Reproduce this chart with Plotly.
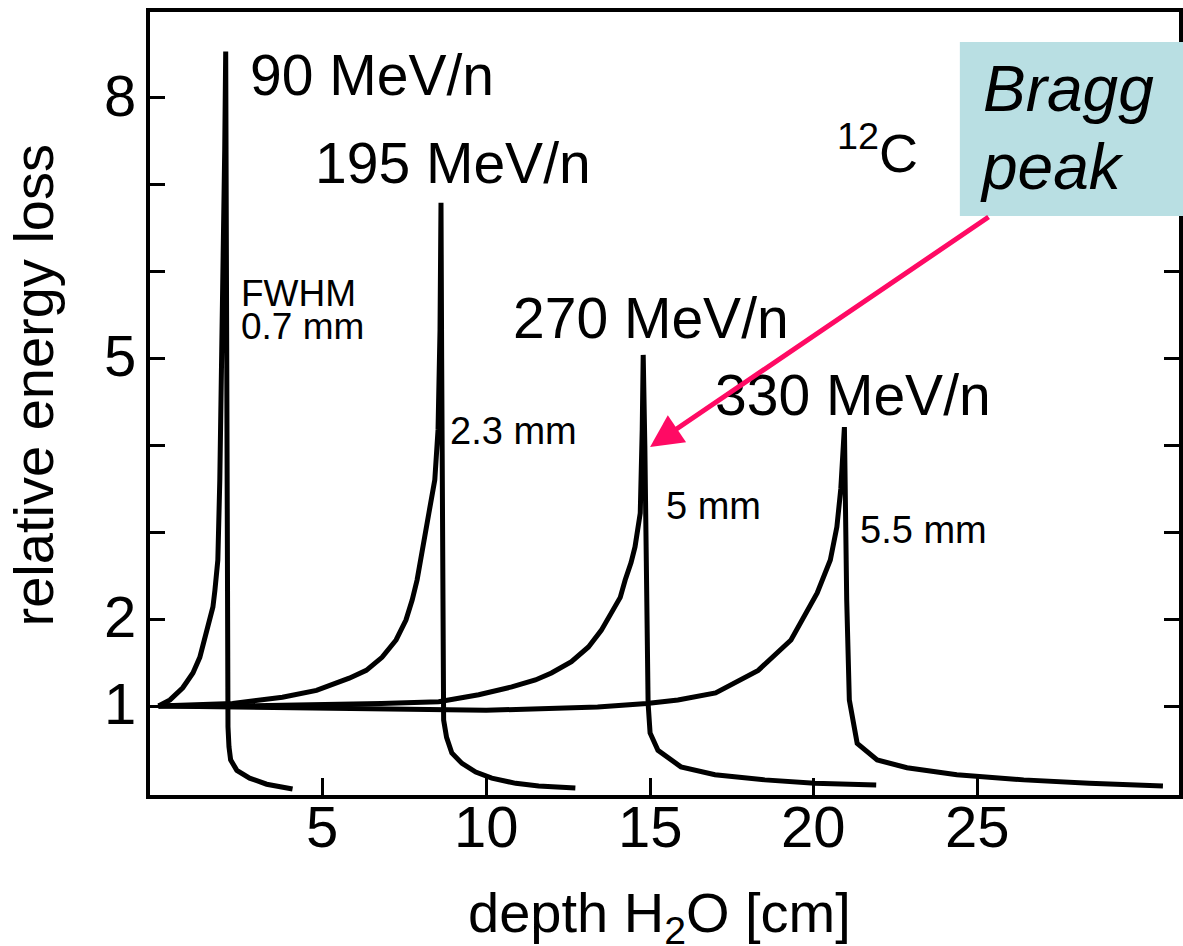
import plotly.graph_objects as go

# ---------------- data ----------------
energies = ["90 MeV/n", "195 MeV/n", "270 MeV/n", "330 MeV/n"]

depth_90 = [0.0, 0.35, 0.74, 1.05, 1.26, 1.41, 1.53, 1.66, 1.72, 1.78, 1.81, 1.87,
            1.93, 1.99, 2.02, 2.05,
            2.07, 2.09, 2.10, 2.12, 2.15, 2.20, 2.39, 2.78, 3.30, 3.78, 4.09]
eloss_90 = [1.0, 1.07, 1.21, 1.38, 1.56, 1.76, 1.95, 2.14, 2.33, 2.53, 2.68, 3.60,
            4.87, 6.25, 7.40, 8.53,
            5.5, 2.5, 1.0, 0.76, 0.53, 0.38, 0.26, 0.17, 0.10, 0.06, 0.045]

depth_195 = [0.0, 2.26, 3.78, 4.82, 5.82, 6.34, 6.82, 7.25, 7.55, 7.74, 7.89, 7.99,
             8.25, 8.43, 8.53, 8.59, 8.62,
             8.64, 8.66, 8.68, 8.70, 8.79, 8.95, 9.26, 9.68, 10.17, 10.90, 11.60,
             12.72]
eloss_195 = [1.0, 1.03, 1.10, 1.18, 1.32, 1.41, 1.56, 1.76, 1.99, 2.22, 2.45, 2.68,
             3.22, 3.60, 4.18, 5.33, 6.79,
             5.0, 2.5, 1.0, 0.84, 0.64, 0.46, 0.34, 0.24, 0.17, 0.11, 0.08,
             0.056]

depth_270 = [0.0, 2.3, 6.8, 8.55, 9.77, 10.78, 11.50, 11.99, 12.60, 13.12, 13.51,
             13.82, 14.09, 14.24, 14.42, 14.54, 14.70, 14.76, 14.79,
             14.84, 14.88, 14.94, 15.0, 15.24, 15.94, 16.98, 18.50, 20.02, 21.9]
eloss_270 = [1.0, 1.0, 1.03, 1.05, 1.13, 1.22, 1.30, 1.38, 1.51, 1.68, 1.87,
             2.07, 2.25, 2.45, 2.65, 2.83, 3.22, 4.18, 5.04,
             4.0, 2.5, 1.03, 0.69, 0.49, 0.30, 0.21, 0.15, 0.11, 0.09]

depth_330 = [0.0, 5.0, 10.0, 13.4, 14.9, 15.85, 17.0, 18.3, 19.3, 20.1, 20.5, 20.7,
             20.82, 20.93,
             20.95, 21.0, 21.08, 21.32, 21.93, 22.84, 24.36, 26.40, 28.40, 30.65]
eloss_330 = [1.0, 0.97, 0.95, 0.99, 1.03, 1.07, 1.15, 1.41, 1.76, 2.30, 2.68, 3.06,
             3.5, 4.21,
             3.3, 2.22, 1.07, 0.57, 0.38, 0.29, 0.21, 0.15, 0.11, 0.08]

fwhm_labels = ["FWHM", "0.7 mm", "2.3 mm", "5 mm", "5.5 mm"]

x_tickvals = [5, 10, 15, 20, 25]
x_ticktext = ["5", "10", "15", "20", "25"]
y_tickvals = [1, 2, 3, 4, 5, 6, 7, 8]
y_labelvals = [1, 2, 5, 8]
y_labeltext = ["1", "2", "5", "8"]

# ---------------- layout geometry ----------------
W, H = 1183, 946
L, R, T, B = 150, 0, 12, 151
PW, PH = W - L - R, H - T - B


def px(xp):
    return (xp - L) / PW


def py(yp):
    return (H - B - yp) / PH


FONT = "Arial, Liberation Sans, Helvetica, sans-serif"

fig = go.Figure()
for d, e, name in zip([depth_90, depth_195, depth_270, depth_330],
                      [eloss_90, eloss_195, eloss_270, eloss_330], energies):
    fig.add_trace(go.Scatter(x=d, y=e, mode="lines", name=name,
                             line=dict(color="black", width=5),
                             showlegend=False, hoverinfo="skip"))

fig.update_layout(
    width=W, height=H,
    margin=dict(l=L, r=R, t=T, b=B),
    paper_bgcolor="white", plot_bgcolor="white",
    font=dict(family=FONT, color="black"),
    showlegend=False,
)
fig.update_xaxes(range=[-0.26, 31.14], tickvals=x_tickvals, showticklabels=False,
                 ticks="inside", ticklen=17, tickwidth=3, tickcolor="black",
                 showline=True, linecolor="black", linewidth=4, mirror=True,
                 showgrid=False, zeroline=False)
fig.update_yaxes(range=[-0.024, 8.986], tickvals=y_tickvals, showticklabels=False,
                 ticks="inside", ticklen=15, tickwidth=3, tickcolor="black",
                 showline=True, linecolor="black", linewidth=4, mirror="ticks",
                 showgrid=False, zeroline=False)

# tick labels
for v, t in zip(x_tickvals, x_ticktext):
    fig.add_annotation(text=t, xref="x", yref="paper", x=v, y=py(826),
                       xanchor="center", yanchor="middle", showarrow=False,
                       font=dict(size=58, family=FONT, color="black"))
for v, t in zip(y_labelvals, y_labeltext):
    fig.add_annotation(text=t, xref="paper", yref="y", x=px(138), y=v + 0.03,
                       xanchor="right", yanchor="middle", showarrow=False,
                       font=dict(size=58, family=FONT, color="black"))

# Bragg peak box
fig.add_shape(type="rect", xref="paper", yref="paper",
              x0=px(963), x1=px(1190), y0=py(216), y1=py(42),
              fillcolor="#B9DFE3", line=dict(width=0), layer="above")


def label(text, xp, yp, size, xanchor="left", **kw):
    fig.add_annotation(text=text, xref="paper", yref="paper", x=px(xp), y=py(yp),
                       xanchor=xanchor, yanchor="middle", showarrow=False,
                       font=dict(size=size, family=FONT, color="black"), **kw)


label(energies[0], 248, 75, 57)
label(energies[1], 314, 163, 57)
label(energies[2], 512, 318, 57)
label(energies[3], 715, 395, 57)
label(fwhm_labels[0], 239, 293, 37)
label(fwhm_labels[1], 239, 326, 37)
label(fwhm_labels[2], 449, 431, 38)
label(fwhm_labels[3], 666, 506, 38)
label(fwhm_labels[4], 861, 530, 38)
label("<sup>12</sup>C", 838, 149, 54)
label("<i>Bragg</i>", 984, 89, 64)
label("<i>peak</i>", 981, 167, 64)

# axis titles
label("relative energy loss", 34, 385, 56, xanchor="center", textangle=-90)
label("depth H<sub>2</sub>O [cm]", 661, 916, 56, xanchor="center")

# arrow to the Bragg peak
fig.add_annotation(xref="paper", yref="paper", x=px(652), y=py(447),
                   ax=992 - 652, ay=216 - 447, axref="pixel", ayref="pixel",
                   text="", showarrow=True, arrowhead=2, arrowsize=1.3,
                   arrowwidth=5, arrowcolor="#FF0A64", standoff=0)

fig.write_html("out.html",
               config={"displayModeBar": False},
               post_script="document.body.style.margin='0';"
                           "document.body.style.overflow='hidden';")
